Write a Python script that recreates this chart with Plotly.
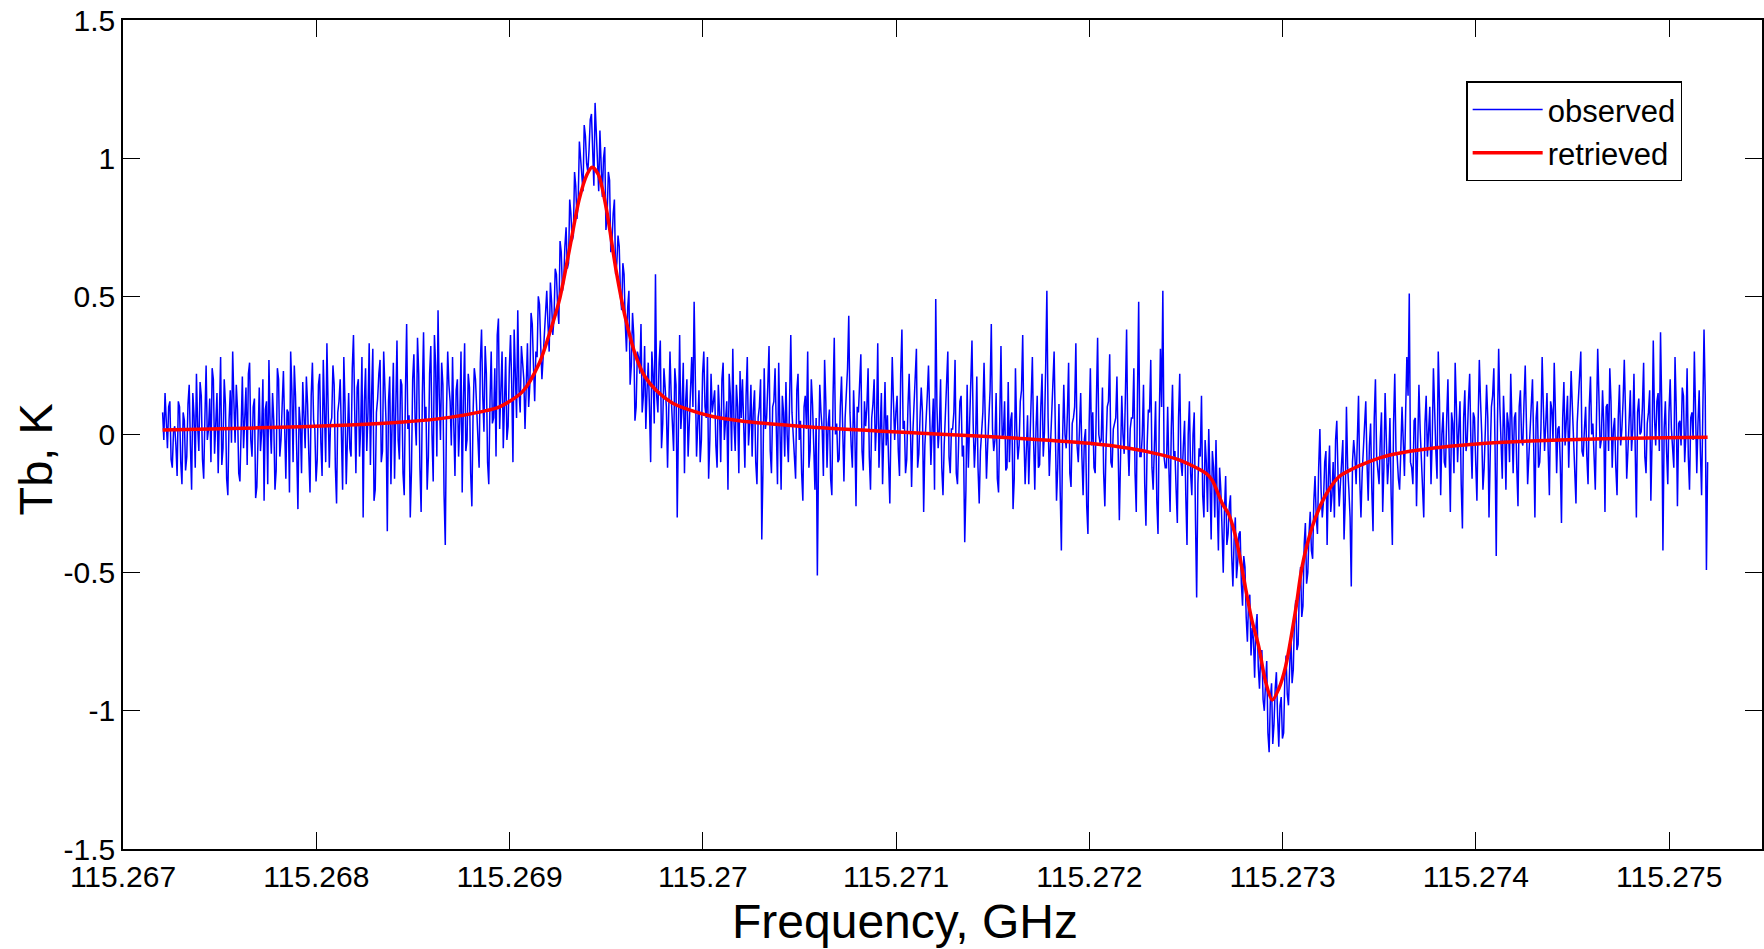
import numpy as np
import plotly.graph_objects as go

# ---------------- data ----------------
F0_GHZ = 115.267              # reference frequency for offsets
obs_start_mhz = 0.205         # first observed channel, MHz above F0
obs_end_mhz = 8.19875         # last observed channel, MHz above F0

# observed spectrum, even channels
obs_even_a = [
    0.08, 0.15, -0.05, 0.12, -0.12, 0.03, -0.15, 0.10, -0.18, 0.05,
    -0.08, 0.18, -0.20, 0.07, 0.22, -0.06, 0.14, -0.16, 0.25, 0.02,
    -0.10, 0.20, 0.04, -0.14, 0.28, -0.05, 0.11, -0.22, 0.16, 0.30,
    -0.03, 0.09, -0.17, 0.21, 0.06, -0.11, 0.26, -0.08, 0.13, -0.19,
    0.17, 0.01, -0.24, 0.12, 0.27, -0.07, 0.05, -0.13, 0.20, -0.02,
    0.23, -0.16, 0.08, 0.30, -0.10, 0.14, -0.27, 0.04, 0.19, -0.05,
    0.11, -0.21, 0.26, 0.02, -0.09, 0.22, -0.15, 0.09, 0.33, -0.12,
    0.06, 0.18, -0.25, 0.12, -0.04, 0.28, -0.18, 0.15, -0.08, 0.36,
    -0.14, 0.20, 0.03, -0.30, 0.24, 0.08, -0.11, 0.31, -0.20, 0.13,
    0.27, -0.06, 0.16, -0.35, 0.21, 0.05, -0.16, 0.34, -0.09, 0.18,
    -0.22, 0.40, 0.07, -0.13, 0.29, -0.04, 0.22, -0.28, 0.37, 0.10,
    -0.08, 0.32, -0.17, 0.25, 0.45, -0.02, 0.18, -0.40, 0.30, 0.12,
]
obs_even_b = [
    0.28, -0.15, 0.20, 0.05, -0.21, 0.33, -0.02, 0.17, -0.26, 0.24,
    0.10, -0.12, 0.38, 0.01, 0.22, -0.18, 0.30, 0.06, -0.08, 0.42,
    0.15, -0.05, 0.28, 0.03, 0.36, -0.10, 0.20, 0.45, 0.08, 0.26,
    0.02, 0.33, 0.18, 0.40, 0.12, 0.28, 0.47, 0.20, 0.36, 0.52,
    0.30, 0.48, 0.42, 0.58, 0.40, 0.66, 0.55, 0.75, 0.62, 0.80,
    0.72, 0.90, 0.84, 1.00, 0.88, 1.08, 0.95, 1.14, 1.02, 1.20,
    0.98, 1.10, 0.86, 1.04, 0.80, 0.92, 0.70, 0.85, 0.62, 0.68,
    0.45, 0.58, 0.30, 0.52, 0.25, 0.36, 0.10, 0.28, 0.40, 0.14,
    0.02, 0.26, -0.10, 0.22, 0.58, 0.08, 0.34, 0.04, 0.18, -0.12,
    0.30, 0.05, 0.24, -0.30, 0.36, 0.10, -0.14, 0.20, 0.02, 0.28,
    0.48, -0.08, 0.16, -0.02, 0.30, 0.06, -0.16, 0.22, 0.12, -0.04,
    0.18, -0.10, 0.26, 0.05, -0.20, 0.14, 0.31, -0.06, 0.10, 0.23,
]
obs_even_c = [
    0.20, -0.12, 0.28, 0.04, -0.08, 0.16, -0.18, 0.10, -0.38, 0.24,
    0.06, 0.32, -0.14, 0.12, -0.03, 0.26, -0.20, 0.08, 0.19, -0.10,
    0.36, 0.00, -0.16, 0.22, 0.05, -0.24, 0.14, 0.30, -0.06, 0.11,
    -0.20, -0.51, 0.18, 0.02, 0.27, -0.12, 0.09, -0.22, 0.35, 0.04,
    -0.09, 0.21, -0.17, 0.13, 0.43, -0.04, 0.16, -0.26, 0.08, 0.29,
    -0.13, 0.03, 0.24, -0.20, 0.11, -0.06, 0.33, 0.01, -0.18, 0.19,
    0.07, -0.25, 0.28, -0.02, 0.14, -0.15, 0.38, 0.05, -0.09, 0.22,
    -0.19, 0.10, 0.31, -0.07, 0.17, -0.28, 0.04, 0.25, -0.11, 0.13,
    0.49, -0.05, 0.20, -0.22, 0.09, 0.30, -0.14, 0.02, 0.27, -0.18,
    0.12, -0.08, -0.39, 0.18, 0.06, 0.34, -0.12, 0.21, -0.25, 0.03,
    0.26, -0.16, 0.10, 0.40, -0.06, 0.15, -0.21, 0.32, 0.00, -0.13,
    0.19, 0.05, -0.27, 0.24, -0.09, 0.12, 0.36, -0.18, 0.07, -0.04,
    0.28, -0.20, 0.14, -0.11, 0.22, 0.01, 0.52, -0.15, 0.09, 0.30,
    -0.24, 0.11, -0.42, 0.18, -0.05, 0.26, -0.19, 0.06, 0.33, -0.10,
    0.15, -0.22, 0.02, -0.36, 0.24, 0.08, -0.14, 0.35, -0.03, 0.17,
    -0.26, 0.10, 0.29, -0.12, 0.04, 0.21, -0.31, 0.14, -0.07, 0.38,
    -0.15, 0.06, 0.24, -0.28, 0.48, -0.08, 0.18, -0.33, 0.09, 0.27,
    -0.20, 0.12, -0.36, 0.31, 0.52, -0.12,
]
obs_even_d = [
    0.10, -0.28, 0.18, -0.06, -0.32, 0.22, -0.15, 0.05, -0.40, 0.12,
    -0.22, 0.08, -0.59, -0.05, 0.14, -0.30, -0.10, 0.02, -0.38, -0.12,
    -0.02, -0.42, -0.20, -0.50, -0.15, -0.36, -0.22, -0.55, -0.30, -0.46,
    -0.35, -0.62, -0.48, -0.75, -0.58, -0.70, -0.88, -0.65, -0.92, -0.78,
    -1.00, -0.82, -1.15, -0.90, -1.05, -0.86, -1.13, -0.95, -1.08, -0.80,
    -0.98, -0.72, -0.85, -0.60, -0.76, -0.48, -0.62, -0.32, -0.50, -0.28,
    -0.45, -0.15, -0.36, 0.02, -0.30, -0.10, -0.40, -0.04, -0.22, -0.30,
    0.05, -0.26, -0.08, -0.38, 0.10, -0.20, -0.55, -0.02, -0.18, 0.14,
    -0.30, -0.06, 0.12, -0.24, 0.04, -0.35, 0.20, -0.12, -0.02, -0.28,
    0.15, -0.18, 0.06, -0.40, 0.22, -0.08,
]
obs_even_e = [
    -0.20, 0.10, -0.15, 0.28, 0.51, -0.12, 0.05, -0.26, 0.18, -0.08,
    -0.30, 0.14, 0.02, -0.18, 0.24, -0.06, 0.30, -0.22, 0.08, -0.12,
    0.20, -0.28, 0.04, 0.26, -0.10, 0.12, -0.34, 0.16, -0.02, 0.22,
    -0.16, 0.06, -0.24, 0.27, 0.00, -0.12, 0.18, -0.30, 0.10, 0.24,
    -0.44, 0.31, -0.08, 0.14, -0.20, 0.04, 0.22, -0.14, 0.08, -0.26,
    0.16, -0.04, 0.25, -0.18, 0.02, 0.20, -0.30, 0.12, -0.10, 0.28,
    -0.06, 0.15, -0.22, 0.09, 0.26, -0.14, 0.03, -0.32, 0.19, 0.07,
    -0.12, 0.23, -0.02, -0.25, 0.14, 0.30, -0.08, 0.10, -0.18, 0.21,
    0.04, -0.20, 0.31, -0.05, 0.16, -0.28, 0.11, 0.24, -0.12, 0.06,
    -0.22, 0.18, 0.02, 0.27, -0.16, 0.09, -0.06, 0.22, -0.30, 0.13,
    0.01, 0.26, -0.14, 0.08, -0.24, 0.34, -0.04, 0.15, 0.37, -0.42,
    0.12, -0.18, 0.20, -0.06, 0.28, -0.26, 0.05, 0.17, -0.10, 0.24,
    -0.20, 0.08, 0.30, -0.14, 0.16, -0.22, 0.38, -0.49,
]

# observed spectrum, odd channels (between consecutive even channels)
obs_odd_a = [
    -0.02, 0.06, 0.10, -0.09, 0.01, -0.04, 0.12, -0.10, 0.08, -0.13,
    0.11, -0.04, 0.15, -0.12, 0.03, 0.19, -0.09, 0.06, -0.02, 0.13,
    0.24, -0.07, 0.15, 0.08, -0.11, 0.20, -0.16, 0.05, -0.03, 0.12,
    0.18, -0.14, 0.02, -0.05, 0.17, 0.22, -0.02, 0.10, -0.23, 0.07,
    -0.06, 0.20, 0.09, -0.18, 0.04, 0.15, -0.20, 0.24, -0.08, 0.11,
    0.03, 0.09, -0.21, 0.16, 0.25, -0.06, 0.10, -0.14, 0.07, 0.21,
    -0.07, 0.14, 0.05, -0.17, 0.18, -0.03, 0.27, -0.10, 0.12, 0.04,
    0.25, -0.12, 0.08, 0.20, -0.20, 0.11, 0.03, -0.05, 0.24, 0.09,
    0.17, -0.08, 0.28, 0.12, -0.06, 0.33, 0.14, -0.24, 0.08, 0.22,
    -0.10, 0.30, 0.04, 0.12, -0.18, 0.26, 0.10, -0.02, 0.20, -0.14,
    0.15, 0.02, -0.30, 0.20, 0.06, 0.35, -0.12, 0.14, 0.05, -0.20,
    0.22, 0.00, 0.36, -0.08, 0.14, 0.26, -0.22, 0.08, 0.18, -0.04,
]
obs_odd_b = [
    0.04, 0.16, -0.08, 0.30, 0.12, -0.06, 0.22, -0.14, 0.08, 0.20,
    -0.05, 0.26, 0.14, 0.32, -0.10, 0.12, 0.04, 0.24, 0.36, 0.02,
    0.30, 0.12, -0.02, 0.24, 0.18, 0.38, 0.06, 0.16, 0.32, 0.20,
    0.22, 0.10, 0.44, 0.25, 0.30, 0.50, 0.32, 0.28, 0.42, 0.40,
    0.55, 0.36, 0.60, 0.46, 0.70, 0.52, 0.68, 0.60, 0.85, 0.70,
    0.95, 0.78, 1.06, 0.92, 1.12, 0.98, 1.03, 1.16, 0.90, 1.08,
    0.88, 0.96, 1.00, 0.74, 0.95, 0.66, 0.80, 0.58, 0.72, 0.50,
    0.62, 0.40, 0.46, 0.18, 0.44, 0.05, 0.30, 0.22, 0.08, 0.32,
    0.16, 0.10, 0.30, 0.04, 0.14, 0.26, -0.05, 0.24, 0.10, 0.06,
    0.14, -0.06, 0.18, 0.06, 0.02, 0.26, 0.12, -0.08, 0.16, 0.10,
    0.20, 0.04, -0.10, 0.22, 0.10, 0.28, -0.02, 0.08, 0.16, -0.12,
    0.08, 0.20, -0.02, 0.12, 0.22, -0.06, 0.04, 0.18, -0.14, 0.06,
]
obs_odd_c = [
    0.05, 0.14, -0.04, 0.18, 0.09, -0.10, 0.06, 0.20, -0.12, 0.02,
    0.18, -0.06, 0.10, 0.24, -0.18, 0.04, 0.14, -0.08, 0.00, 0.12,
    0.08, -0.10, 0.16, -0.02, -0.14, 0.10, 0.02, -0.12, 0.20, -0.04,
    0.06, -0.08, 0.08, -0.15, 0.12, 0.04, -0.16, 0.14, 0.00, -0.10,
    0.10, 0.02, 0.06, 0.24, 0.08, -0.12, 0.02, 0.10, 0.18, -0.06,
    0.12, 0.10, -0.08, 0.06, 0.20, 0.04, -0.12, 0.15, 0.06, -0.04,
    -0.10, 0.06, 0.12, 0.08, -0.06, 0.22, 0.02, -0.14, 0.10, 0.04,
    0.00, 0.18, -0.12, 0.06, 0.08, -0.04, 0.14, 0.10, 0.02, -0.20,
    0.10, 0.02, -0.12, -0.04, 0.14, -0.08, 0.02, 0.08, -0.14, -0.02,
    0.14, -0.04, -0.20, -0.12, 0.16, 0.04, -0.02, -0.12, -0.06, 0.08,
    0.00, -0.04, 0.16, 0.02, -0.02, -0.16, 0.06, -0.01, 0.12, -0.12,
    -0.10, 0.08, -0.16, 0.02, -0.04, 0.16, 0.00, -0.06, -0.18, 0.10,
    -0.02, 0.02, -0.12, 0.10, -0.08, 0.24, 0.06, -0.04, 0.14, 0.02,
    -0.12, -0.20, -0.02, 0.00, 0.08, -0.14, 0.04, 0.10, -0.04, 0.02,
    -0.08, -0.02, -0.26, 0.04, -0.04, -0.12, 0.12, 0.00, -0.02, -0.14,
    -0.04, 0.12, -0.10, 0.02, 0.06, -0.16, -0.08, 0.00, 0.14, -0.02,
    0.02, 0.06, -0.14, 0.14, -0.08, 0.00, -0.18, -0.04, 0.08, -0.12,
    -0.04, -0.24, 0.04, 0.10, -0.08, -0.12,
]
obs_odd_d = [
    -0.12, 0.02, -0.08, -0.20, 0.06, -0.10, -0.04, -0.22, 0.00, -0.14,
    0.00, -0.30, -0.18, -0.08, -0.22, -0.02, -0.28, -0.16, -0.06, -0.30,
    -0.24, -0.12, -0.34, -0.28, -0.40, -0.26, -0.44, -0.38, -0.52, -0.36,
    -0.54, -0.44, -0.66, -0.60, -0.80, -0.74, -0.70, -0.84, -0.80, -0.96,
    -0.90, -1.08, -0.96, -1.12, -0.92, -1.02, -0.98, -1.10, -0.88, -0.94,
    -0.84, -0.90, -0.66, -0.78, -0.56, -0.66, -0.40, -0.54, -0.36, -0.42,
    -0.24, -0.30, -0.12, -0.20, -0.24, -0.06, -0.16, -0.28, -0.10, -0.02,
    -0.14, -0.18, -0.02, -0.24, -0.12, -0.30, -0.10, -0.08, 0.04, -0.16,
    -0.14, 0.02, -0.10, -0.04, -0.20, 0.06, -0.08, -0.18, 0.08, -0.12,
    -0.02, -0.10, -0.22, 0.04, -0.06, -0.16,
]
obs_odd_e = [
    -0.06, -0.02, 0.08, 0.14, -0.10, -0.18, 0.06, -0.04, 0.02, -0.20,
    0.04, -0.08, 0.10, -0.02, 0.06, -0.16, 0.12, 0.00, -0.10, 0.06,
    -0.06, 0.08, -0.14, 0.10, 0.02, -0.18, 0.06, -0.06, 0.12, -0.02,
    0.08, -0.10, 0.04, 0.12, -0.20, 0.02, 0.06, -0.08, 0.14, -0.04,
    0.04, 0.10, -0.16, 0.02, 0.08, -0.10, 0.00, 0.06, -0.12, 0.10,
    -0.02, 0.12, 0.04, -0.08, 0.14, -0.04, 0.06, -0.12, 0.02, 0.10,
    0.04, -0.06, 0.12, -0.02, 0.08, 0.02, -0.10, 0.06, -0.04, 0.14,
    0.02, 0.10, -0.10, 0.04, 0.18, -0.06, 0.02, -0.08, 0.10, 0.00,
    -0.08, 0.06, 0.14, -0.02, 0.04, 0.10, -0.06, 0.12, 0.02, -0.12,
    0.06, -0.04, 0.12, 0.08, -0.06, 0.16, 0.02, -0.10, 0.08, 0.00,
    0.10, -0.08, 0.04, 0.16, -0.02, 0.06, 0.12, -0.06, 0.10, 0.02,
    -0.06, 0.08, 0.02, -0.12, 0.10, 0.04, -0.04, 0.14, 0.00, -0.08,
    0.06, -0.02, 0.12, 0.04, -0.06, 0.08, 0.14, -0.10,
]

# retrieved (fitted) spectrum: offsets in MHz above F0 and Tb in K
ret_offset_mhz = [
    0.205, 0.70, 1.172, 1.45, 1.689, 1.85, 1.948, 2.067, 2.155, 2.196,
    2.258, 2.310, 2.36, 2.40, 2.427, 2.46, 2.50, 2.551, 2.60, 2.655,
    2.70, 2.758, 2.84, 2.930, 3.05, 3.189, 3.534, 3.9, 4.206, 4.688,
    5.0, 5.205, 5.35, 5.464, 5.602, 5.635, 5.688, 5.722, 5.76, 5.809,
    5.84, 5.877, 5.91, 5.946, 5.98, 6.015, 6.067, 6.10, 6.153, 6.20,
    6.239, 6.291, 6.36, 6.448, 6.55, 6.705, 7.05, 7.567, 8.19875,
]
ret_tb = [
    0.016, 0.024, 0.034, 0.045, 0.062, 0.082, 0.10, 0.155, 0.26, 0.342,
    0.487, 0.67, 0.85, 0.94, 0.967, 0.94, 0.82, 0.595, 0.42, 0.28,
    0.21, 0.16, 0.115, 0.089, 0.065, 0.05, 0.028, 0.013, 0.002, -0.016,
    -0.032, -0.05, -0.07, -0.092, -0.14, -0.165, -0.25, -0.29, -0.38, -0.56,
    -0.67, -0.77, -0.89, -0.961, -0.92, -0.84, -0.635, -0.48, -0.334, -0.25,
    -0.2, -0.153, -0.125, -0.098, -0.075, -0.056, -0.032, -0.017, -0.01,
]

x_tick_vals = [115.267, 115.268, 115.269, 115.270, 115.271, 115.272, 115.273, 115.274, 115.275]
x_tick_text = ["115.267", "115.268", "115.269", "115.27", "115.271", "115.272", "115.273", "115.274", "115.275"]
y_tick_vals = [-1.5, -1.0, -0.5, 0.0, 0.5, 1.0, 1.5]
y_tick_text = ["-1.5", "-1", "-0.5", "0", "0.5", "1", "1.5"]

# ---------------- build ----------------
obs_even = obs_even_a + obs_even_b + obs_even_c + obs_even_d + obs_even_e
obs_odd = obs_odd_a + obs_odd_b + obs_odd_c + obs_odd_d + obs_odd_e
obs_tb = [v for pair in zip(obs_even, obs_odd) for v in pair]
obs_freq = F0_GHZ + np.linspace(obs_start_mhz, obs_end_mhz, len(obs_tb)) / 1000.0
ret_freq = F0_GHZ + np.array(ret_offset_mhz) / 1000.0

FONT = "Liberation Sans, Arial, Helvetica, sans-serif"

fig = go.Figure()
fig.add_trace(go.Scatter(
    x=obs_freq, y=obs_tb, mode="lines", name="observed",
    line=dict(color="#0000ff", width=1.5),
))
fig.add_trace(go.Scatter(
    x=ret_freq, y=ret_tb, mode="lines", name="retrieved",
    line=dict(color="#ff0000", width=3.5, shape="spline", smoothing=0.8),
))

axis_common = dict(
    showline=True, linecolor="black", linewidth=1.5, mirror="ticks",
    ticks="inside", ticklen=17, tickwidth=1.3, tickcolor="black",
    showgrid=False, zeroline=False,
    tickfont=dict(family=FONT, size=30, color="black"),
)

fig.update_layout(
    width=1764, height=949,
    paper_bgcolor="white", plot_bgcolor="white",
    margin=dict(l=123, r=0, t=20, b=100, pad=0),
    font=dict(family=FONT, color="black"),
    xaxis=dict(range=[115.267, 115.27548], tickvals=x_tick_vals, ticktext=x_tick_text, **axis_common),
    yaxis=dict(range=[-1.5, 1.5], tickvals=y_tick_vals, ticktext=y_tick_text, **axis_common),
    showlegend=True,
    legend=dict(
        x=0.8195, y=0.926, xanchor="left", yanchor="top",
        bgcolor="white", bordercolor="black", borderwidth=1.5,
        font=dict(family=FONT, size=31, color="black"),
        itemwidth=70, tracegroupgap=0,
    ),
    annotations=[
        dict(text="Frequency, GHz", xref="paper", yref="paper",
             x=0.477, y=-0.088, xanchor="center", yanchor="middle",
             showarrow=False, font=dict(family=FONT, size=48, color="black")),
        dict(text="Tb, K", xref="paper", yref="paper",
             x=-0.0536, y=0.470, xanchor="center", yanchor="middle", textangle=-90,
             showarrow=False, font=dict(family=FONT, size=47, color="black")),
    ],
)

fig.write_html("out.html", config={"displayModeBar": False},
               post_script="document.body.style.margin='0';")
